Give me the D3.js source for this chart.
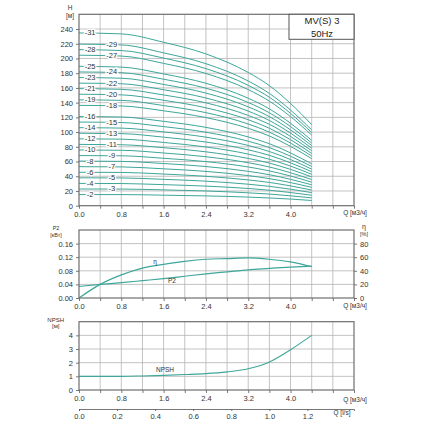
<!DOCTYPE html>
<html lang="ru">
<head>
<meta charset="UTF-8">
<title>MV(S) 3 50Hz</title>
<script src="https://cdn.jsdelivr.net/npm/d3@7"></script>
<style>
    body { margin: 0; background: #fff; }
    svg { font-family: "Liberation Sans", Arial, sans-serif; }
    .grid line { stroke: #b4b4b4; stroke-width: 0.8; }
    .frame { fill: none; stroke: #6e6e6e; stroke-width: 1.2; }
    .axis text { font-size: 7.5px; fill: #333; }
    .axis path, .axis line { stroke: #555; stroke-width: 0.8; }
    .curve { fill: none; stroke: #3ea69a; stroke-width: 1; }
    .unit { font-size: 6.5px; fill: #333; }
    .stage { font-size: 7.5px; fill: #333; stroke: #fff; stroke-width: 2.5px; paint-order: stroke; }
</style>
</head>
<body>
<svg id="chart" width="428" height="428"></svg>
<script>
// flow points of the head curves, m3/h
const qPoints = [0, 0.8, 1.6, 2.4, 3.2, 3.6, 4.0, 4.4];

// number of stages of each curve (no curve for 17, 26, 30)
const stages = [2, 3, 4, 5, 6, 7, 8, 9, 10, 11, 12, 13, 14, 15, 16,
                18, 19, 20, 21, 22, 23, 24, 25, 27, 28, 29, 31];

// head [m] of each curve at qPoints
const heads = [
    [15.1, 15.1, 14.3, 13.3, 11.7, 10.5, 9.0, 7.1],
    [22.7, 22.6, 21.5, 20.0, 17.5, 15.8, 13.4, 10.7],
    [30.3, 30.1, 28.6, 26.6, 23.4, 21.0, 17.9, 14.2],
    [37.9, 37.7, 35.8, 33.3, 29.2, 26.3, 22.4, 17.8],
    [45.4, 45.2, 43.0, 39.9, 35.0, 31.6, 26.9, 21.3],
    [53.0, 52.7, 50.1, 46.6, 40.9, 36.8, 31.4, 24.9],
    [60.6, 60.2, 57.3, 53.2, 46.7, 42.1, 35.8, 28.4],
    [68.1, 67.8, 64.4, 59.9, 52.6, 47.3, 40.3, 32.0],
    [75.7, 75.3, 71.6, 66.5, 58.4, 52.6, 44.8, 35.5],
    [83.3, 82.8, 78.8, 73.2, 64.2, 57.9, 49.3, 39.1],
    [90.8, 90.4, 85.9, 79.8, 70.1, 63.1, 53.8, 42.6],
    [98.4, 97.9, 93.1, 86.5, 75.9, 68.4, 58.2, 46.2],
    [106.0, 105.4, 100.2, 93.1, 81.8, 73.6, 62.7, 49.7],
    [113.6, 113.0, 107.4, 99.8, 87.6, 78.9, 67.2, 53.3],
    [121.1, 120.5, 114.6, 106.4, 93.4, 84.2, 71.7, 56.8],
    [136.3, 135.5, 128.9, 119.7, 105.1, 94.7, 80.6, 63.9],
    [143.8, 143.1, 136.0, 126.4, 111.0, 99.9, 85.1, 67.5],
    [151.4, 150.6, 143.2, 133.0, 116.8, 105.2, 89.6, 71.0],
    [159.0, 158.1, 150.4, 139.7, 122.6, 110.5, 94.1, 74.6],
    [166.5, 165.7, 157.5, 146.3, 128.5, 115.7, 98.6, 78.1],
    [174.1, 173.2, 164.7, 153.0, 134.3, 121.0, 103.0, 81.7],
    [181.7, 180.7, 171.8, 159.6, 140.2, 126.2, 107.5, 85.2],
    [189.3, 188.3, 179.0, 166.3, 146.0, 131.5, 112.0, 88.8],
    [204.4, 203.3, 193.3, 179.6, 157.7, 142.0, 121.0, 95.9],
    [212.0, 210.8, 200.5, 186.2, 163.5, 147.3, 125.4, 99.4],
    [219.5, 218.4, 207.6, 192.9, 169.4, 152.5, 129.9, 103.0],
    [234.7, 233.4, 222.0, 206.2, 181.0, 163.1, 138.9, 110.1]
];

// power / efficiency / NPSH curves
const qFine = [0, 0.4, 0.8, 1.2, 1.6, 2.0, 2.4, 2.8, 3.2, 3.6, 4.0, 4.4];
const p2 = [0.034, 0.040, 0.045, 0.051, 0.057, 0.064, 0.071, 0.077, 0.083, 0.087, 0.091, 0.094];
const eta = [0, 20, 34, 44, 49.5, 54, 57, 58, 59, 57, 53, 46];
const npsh = [1.0, 1.0, 1.0, 1.03, 1.07, 1.13, 1.2, 1.33, 1.55, 2.05, 2.95, 4.0];

// tick labels
const qTicks = [0, 0.8, 1.6, 2.4, 3.2, 4.0];
const hTicks = [0, 20, 40, 60, 80, 100, 120, 140, 160, 180, 200, 220, 240];
const p2Ticks = [0, 0.04, 0.08, 0.12, 0.16];
const etaTicks = [0, 20, 40, 60, 80];
const npshTicks = [0, 1, 2, 3, 4];
const lsTicks = [0, 0.2, 0.4, 0.6, 0.8, 1.0, 1.2];

const svg = d3.select("#chart");
const left = 79, right = 354;

const x = d3.scaleLinear().domain([0, 5.2]).range([left, right]);
const xLs = d3.scaleLinear().domain([0, 5.2 / 3.6]).range([left, right]);
const yH = d3.scaleLinear().domain([0, 260]).range([205.7, 14.3]);
const yP = d3.scaleLinear().domain([0, 0.2]).range([298, 230]);
const yEta = d3.scaleLinear().domain([0, 100]).range([298, 230]);
const yN = d3.scaleLinear().domain([0, 5]).range([390, 321.7]);

const gridQ = d3.range(1, 13).map(i => +(i * 0.4).toFixed(1));
const allQ = d3.range(0, 14).map(i => +(i * 0.4).toFixed(1));

function panel(yScale, yGrid) {
    const [y0, y1] = yScale.range();
    const g = svg.append("g").attr("class", "grid");
    g.selectAll(".v").data(gridQ).join("line")
        .attr("x1", d => x(d)).attr("x2", d => x(d))
        .attr("y1", y0).attr("y2", y1);
    g.selectAll(".h").data(yGrid).join("line")
        .attr("x1", left).attr("x2", right)
        .attr("y1", d => yScale(d)).attr("y2", d => yScale(d));
    const xa = svg.append("g").attr("class", "axis")
        .attr("transform", `translate(0,${y0})`)
        .call(d3.axisBottom(x).tickValues(allQ).tickSize(3)
            .tickFormat(d => qTicks.includes(d) ? d.toFixed(1) : ""));
    xa.select(".domain").remove();
    return g;
}

function frame(yScale) {
    const [y0, y1] = yScale.range();
    svg.append("rect").attr("class", "frame")
        .attr("x", left).attr("y", y1)
        .attr("width", right - left).attr("height", y0 - y1);
}

const line = yScale => d3.line()
    .x(d => x(d[0])).y(d => yScale(d[1]))
    .curve(d3.curveMonotoneX);

// ---------- head chart ----------
panel(yH, d3.range(20, 260, 20));
svg.append("g").attr("class", "axis")
    .attr("transform", `translate(${left},0)`)
    .call(d3.axisLeft(yH).tickValues(hTicks).tickSize(3))
    .select(".domain").remove();

svg.append("g").selectAll("path")
    .data(heads)
    .join("path")
    .attr("class", "curve")
    .attr("d", h => line(yH)(qPoints.map((q, i) => [q, h[i]])));

// stage labels, alternating columns from the top curve down
const order = stages.map((s, i) => i).sort((a, b) => stages[b] - stages[a]);
svg.append("g").selectAll("text")
    .data(order)
    .join("text")
    .attr("class", "stage")
    .attr("x", (d, k) => x(k % 2 === 0 ? 0.21 : 0.62))
    .attr("y", d => yH(heads[d][0]))
    .attr("text-anchor", "middle")
    .attr("dominant-baseline", "central")
    .text(d => "-" + stages[d]);

frame(yH);

// type box
svg.append("rect")
    .attr("x", 289).attr("y", 14.3).attr("width", right - 289).attr("height", 25)
    .attr("fill", "#fff").attr("stroke", "#555").attr("stroke-width", 1);
svg.append("text").attr("x", 322).attr("y", 24).attr("text-anchor", "middle")
    .style("font-size", "9.5px").attr("fill", "#222").text("MV(S) 3");
svg.append("text").attr("x", 322).attr("y", 36.5).attr("text-anchor", "middle")
    .style("font-size", "9.5px").attr("fill", "#222").text("50Hz");

svg.append("text").attr("class", "unit").attr("x", 70).attr("y", 10).attr("text-anchor", "middle").text("H");
svg.append("text").attr("class", "unit").attr("x", 70).attr("y", 18).attr("text-anchor", "middle").text("[м]");
svg.append("text").attr("class", "unit").attr("x", 355).attr("y", 215).attr("text-anchor", "middle").text("Q [м3/ч]");

// ---------- power / efficiency chart ----------
panel(yP, [0.04, 0.08, 0.12, 0.16]);
svg.append("g").attr("class", "axis")
    .attr("transform", `translate(${left},0)`)
    .call(d3.axisLeft(yP).tickValues(p2Ticks).tickSize(3).tickFormat(d3.format(".2f")))
    .select(".domain").remove();
svg.append("g").attr("class", "axis")
    .attr("transform", `translate(${right},0)`)
    .call(d3.axisRight(yEta).tickValues(etaTicks).tickSize(3).tickFormat(d3.format("d")))
    .select(".domain").remove();

svg.append("path").attr("class", "curve").style("stroke-width", 1.2)
    .attr("d", line(yEta)(qFine.map((q, i) => [q, eta[i]])));
svg.append("path").attr("class", "curve").style("stroke-width", 1.2)
    .attr("d", line(yP)(qFine.map((q, i) => [q, p2[i]])));
frame(yP);

svg.append("text").attr("class", "unit").attr("x", 155).attr("y", 264).attr("text-anchor", "middle").text("η");
svg.append("text").attr("class", "unit").attr("x", 172).attr("y", 282.5).attr("text-anchor", "middle").text("P2");
svg.append("text").attr("class", "unit").attr("x", 56).attr("y", 230).attr("text-anchor", "middle").style("font-size", "5.5px").text("P2");
svg.append("text").attr("class", "unit").attr("x", 56).attr("y", 236.5).attr("text-anchor", "middle").style("font-size", "5.5px").text("[кВт]");
svg.append("text").attr("class", "unit").attr("x", 364).attr("y", 229).attr("text-anchor", "middle").style("font-size", "7px").text("η");
svg.append("text").attr("class", "unit").attr("x", 364).attr("y", 235.5).attr("text-anchor", "middle").style("font-size", "5.5px").text("[%]");
svg.append("text").attr("class", "unit").attr("x", 355).attr("y", 308).attr("text-anchor", "middle").text("Q [м3/ч]");

// ---------- NPSH chart ----------
panel(yN, [1, 2, 3, 4]);
svg.append("g").attr("class", "axis")
    .attr("transform", `translate(${left},0)`)
    .call(d3.axisLeft(yN).tickValues(npshTicks).tickSize(3).tickFormat(d3.format("d")))
    .select(".domain").remove();
svg.append("path").attr("class", "curve").style("stroke-width", 1.1)
    .attr("d", line(yN)(qFine.map((q, i) => [q, npsh[i]])));
frame(yN);

svg.append("text").attr("class", "unit").attr("x", 165).attr("y", 371.5).attr("text-anchor", "middle").text("NPSH");
svg.append("text").attr("class", "unit").attr("x", 64).attr("y", 322).attr("text-anchor", "end").style("font-size", "6px").text("NPSH");
svg.append("text").attr("class", "unit").attr("x", 52).attr("y", 328).style("font-size", "6px").text("[м]");
svg.append("text").attr("class", "unit").attr("x", 355).attr("y", 401.5).attr("text-anchor", "middle").text("Q [м3/ч]");

// second flow scale in l/s
svg.append("g").attr("class", "axis")
    .attr("transform", "translate(0,409)")
    .call(d3.axisBottom(xLs).tickValues(lsTicks).tickSize(2).tickFormat(d3.format(".1f")));
svg.append("text").attr("class", "unit").attr("x", 342).attr("y", 415).attr("text-anchor", "middle").text("Q [l/s]");
</script>
</body>
</html>
